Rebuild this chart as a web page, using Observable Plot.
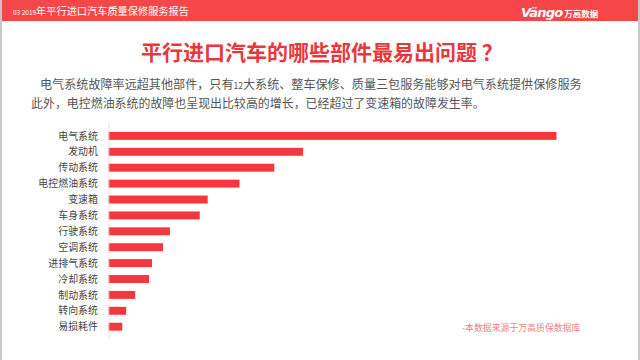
<!DOCTYPE html>
<html>
<head>
<meta charset="utf-8">
<script src="https://cdn.jsdelivr.net/npm/d3@7"></script>
<script src="https://cdn.jsdelivr.net/npm/@observablehq/plot@0.6"></script>
<style>
  body { margin: 0; background: #fff; }
  #frame { position: relative; width: 640px; height: 360px; overflow: hidden; background: #fff;
    font-family: "Noto Sans CJK SC", "Noto Sans", sans-serif; box-sizing: border-box;
    border-left: 2px solid #c8c8c8; border-right: 2px solid #c8c8c8; }
  #header { position: absolute; left: 0; top: 0; width: 640px; height: 21px; background: #f5464a; }
  #htext { position: absolute; left: 11px; top: 2px; color: #fff; font-size: 10.2px; line-height: 17px; white-space: nowrap; }
  #htext small { font-size: 6.5px; }
  #logo { position: absolute; left: 519px; top: 0px; color: #fff; white-space: nowrap; line-height: 20px; }
  #logo b { font-family: "DejaVu Sans", sans-serif; font-style: italic; font-size: 13px; font-weight: bold; letter-spacing: -0.8px; }
  #logo span { font-size: 8.5px; font-weight: bold; margin-left: 2px; }
  #title { position: absolute; left: 0; width: 640px; top: 36px; text-align: center; color: #e8383d; font-size: 21px; font-weight: bold; line-height: 30px; }
  .sub { position: absolute; color: #555; white-space: nowrap; line-height: 18px; }
  #chart { position: absolute; left: 0; top: 120px; }
  #caption { position: absolute; left: 460px; top: 321px; color: #f07f86; font-size: 8.9px; white-space: nowrap; }
</style>
</head>
<body>
<div id="frame">
  <div id="header">
    <div id="htext"><small>03 2019</small>年平行进口汽车质量保修服务报告</div>
    <div id="logo"><b>Vängo</b><span>万高数据</span></div>
  </div>
  <div id="title">平行进口汽车的哪些部件最易出问题 ？</div>
  <div class="sub" style="left:38px; top:75px; font-size:12.1px;">电气系统故障率远超其他部件，只有<span style="font-size:8.5px">12</span>大系统、整车保修、质量三包服务能够对电气系统提供保修服务</div>
  <div class="sub" style="left:29px; top:94px; font-size:11.95px;">此外，电控燃油系统的故障也呈现出比较高的增长，已经超过了变速箱的故障发生率。</div>
  <div id="chart"></div>
  <div id="caption">-本数据来源于万高质保数据库</div>
</div>
<script>
const categories = ["电气系统","发动机","传动系统","电控燃油系统","变速箱","车身系统","行驶系统","空调系统","进排气系统","冷却系统","制动系统","转向系统","易损耗件"];
const values = [451, 196, 167, 132, 100, 92, 62, 55, 44, 41, 27, 18, 14];

const data = categories.map((c, i) => ({category: c, value: values[i]}));

const chart = Plot.plot({
  width: 640,
  height: 240,
  marginTop: 3,
  marginBottom: 20,
  marginLeft: 107,
  marginRight: 82,
  style: {fontFamily: "'Noto Sans CJK SC', sans-serif", fontSize: "10px", color: "#444", background: "transparent"},
  x: {domain: [0, d3.max(values)], axis: null},
  y: {domain: categories, padding: 0.5, label: null},
  marks: [
    Plot.barX(data, {x: "value", y: "category", fill: "#f5383e"}),
    Plot.ruleX([0], {stroke: "#e2e2e2"}),
    Plot.axisY({tickSize: 0, tickPadding: 11, label: null, fill: "#444"})
  ]
});
document.getElementById("chart").appendChild(chart);
</script>
</body>
</html>
